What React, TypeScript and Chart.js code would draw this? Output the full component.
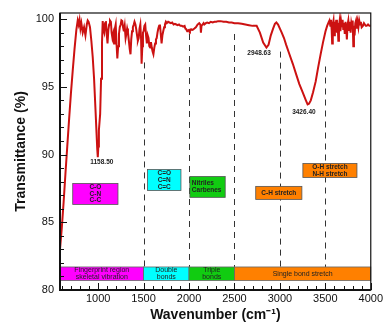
import React, { useEffect, useRef } from "react";
import { Chart, registerables } from "chart.js";

Chart.register(...registerables);

// Wavenumber (cm-1) and transmittance (%)
const wavenumbers: number[] = [
  580, 600, 620, 640, 660, 680, 700, 720, 740, 760, 775, 785, 795, 805, 815, 830, 845, 860, 875, 885,
  895, 910, 925, 940, 955, 970, 982, 990, 996, 1002, 1008, 1015, 1022, 1032, 1042, 1050, 1058, 1067, 1076, 1085,
  1094, 1103, 1112, 1121, 1130, 1140, 1148, 1157, 1166, 1175, 1184, 1193, 1202, 1211, 1220, 1229, 1238, 1248, 1256, 1265,
  1274, 1283, 1292, 1302, 1310, 1319, 1328, 1338, 1347, 1356, 1364, 1373, 1382, 1392, 1400, 1410, 1420, 1428, 1437, 1446,
  1455, 1464, 1472, 1478, 1486, 1493, 1500, 1509, 1518, 1527, 1536, 1545, 1554, 1563, 1572, 1581, 1590, 1599, 1608, 1618,
  1627, 1636, 1644, 1653, 1662, 1671, 1680, 1689, 1698, 1707, 1716, 1726, 1735, 1745, 1755, 1770, 1785, 1800, 1815, 1830,
  1845, 1860, 1875, 1890, 1905, 1920, 1935, 1951, 1960, 1969, 1980, 1987, 2000, 2010, 2023, 2040, 2059, 2075, 2095, 2105,
  2113, 2125, 2131, 2137, 2149, 2160, 2168, 2185, 2200, 2220, 2240, 2260, 2280, 2300, 2320, 2347, 2380, 2410, 2440, 2470,
  2500, 2540, 2580, 2620, 2660, 2700, 2744, 2780, 2816, 2852, 2875, 2900, 2925, 2945, 2961, 2980, 3000, 3020, 3045, 3069,
  3100, 3142, 3180, 3214, 3250, 3286, 3305, 3320, 3340, 3365, 3394, 3420, 3448, 3475, 3502, 3520, 3538, 3545, 3555, 3562,
  3570, 3575, 3582, 3590, 3598, 3605, 3612, 3620, 3628, 3636, 3643, 3650, 3658, 3666, 3674, 3682, 3690, 3698, 3706, 3714,
  3722, 3730, 3737, 3745, 3753, 3761, 3770, 3778, 3786, 3794, 3801, 3808, 3815, 3822, 3830, 3838, 3846, 3855, 3864, 3873,
  3882, 3891, 3900, 3913, 3925, 3935, 3945, 3955, 3970, 3985, 4000,
];
const transmittance: number[] = [
  83.0, 84.6, 86.5, 88.6, 90.6, 92.6, 94.5, 96.2, 97.8, 99.2, 99.9, 99.6, 99.95, 99.3, 99.7, 99.0, 99.4, 98.8, 99.6, 99.9,
  99.8, 99.4, 98.4, 97.2, 95.6, 93.4, 91.6, 90.4, 89.8, 90.6, 91.8, 92.4, 93.0, 95.6, 98.2, 99.85, 99.2, 99.0, 99.7, 99.85,
  98.9, 98.2, 99.2, 99.6, 99.9, 99.8, 99.0, 98.6, 98.9, 98.2, 99.3, 99.6, 98.2, 97.1, 98.0, 98.9, 99.4, 99.6, 99.9, 99.85,
  99.4, 99.1, 99.5, 98.6, 98.9, 99.3, 99.0, 98.4, 97.8, 97.4, 98.5, 99.1, 99.4, 99.6, 99.8, 99.6, 99.2, 98.8, 98.4, 98.6,
  99.3, 99.6, 98.6, 96.7, 98.0, 99.0, 99.1, 99.5, 99.6, 98.8, 98.2, 98.8, 98.6, 98.0, 97.9, 98.3, 97.9, 97.6, 97.4, 97.9,
  98.2, 98.5, 98.6, 99.0, 99.3, 99.5, 99.6, 98.9, 98.2, 98.8, 99.1, 99.4, 99.6, 99.8, 99.7, 99.8, 99.75, 99.7, 99.75, 99.6,
  99.65, 99.6, 99.55, 99.6, 99.5, 99.5, 99.45, 99.5, 99.3, 99.25, 99.1, 99.15, 99.2, 99.1, 99.25, 99.2, 99.3, 99.4, 99.6, 99.65,
  99.7, 99.6, 99.0, 99.5, 99.6, 99.7, 99.6, 99.7, 99.75, 99.7, 99.8, 99.75, 99.8, 99.8, 99.85, 99.85, 99.8, 99.8, 99.75, 99.75,
  99.7, 99.7, 99.65, 99.6, 99.55, 99.5, 99.5, 99.0, 98.26, 97.9, 98.1, 98.8, 99.3, 99.65, 99.75, 99.6, 99.3, 99.0, 98.6, 98.1,
  97.5, 96.7, 95.9, 95.2, 94.6, 94.0, 93.7, 93.75, 94.0, 94.6, 95.4, 96.4, 97.4, 98.3, 99.1, 99.5, 99.8, 99.9, 99.5, 99.95,
  99.2, 98.2, 99.6, 99.9, 98.8, 99.8, 99.3, 99.95, 99.0, 99.7, 98.4, 99.5, 99.9, 99.1, 99.8, 99.4, 99.95, 99.2, 99.7, 98.9,
  99.8, 99.3, 98.5, 99.6, 99.9, 99.2, 99.8, 99.0, 99.7, 99.4, 99.9, 98.0, 99.5, 98.8, 99.7, 99.9, 99.3, 99.8, 99.4, 99.9,
  99.6, 99.8, 99.4, 99.5, 99.7, 99.6, 99.5, 99.5, 99.6, 99.5, 99.5,
];

// Axis ticks
const xTickLabels: number[] = [1000, 1500, 2000, 2500, 3000, 3500, 4000];
const yTickLabels: number[] = [80, 85, 90, 95, 100];

// Peak labels
const peakTexts: string[] = ["1158.50", "2948.63", "3426.40"];
const peakX: number[] = [1040, 2771, 3264];
const peakY: number[] = [89.4, 97.45, 93.1];

// Dashed region separators
const dividerX: number[] = [1500, 2000, 2500, 3000, 3500];
const dividerTop: number[] = [96.8, 98.9, 98.9, 97.6, 96.5];
const dividerBottom = 81.7;

// Bottom region bands
const bandLabels: string[][] = [
  ["Fingerprint region", "skeletal vibration"],
  ["Double", "bonds"],
  ["Triple", "bonds"],
  ["Single bond stretch"],
];
const bandFrom: number[] = [580, 1500, 2000, 2500];
const bandTo: number[] = [1500, 2000, 2500, 4000];
const bandColors: string[] = ["#ff00ff", "#00ffff", "#11cc11", "#ff8000"];
const bandLow = 80.7;
const bandHigh = 81.7;

// Functional-group boxes
const boxLabels: string[][] = [
  ["C-O", "C-N", "C-C"],
  ["C=O", "C=N", "C=C"],
  ["Nitriles", "Carbenes"],
  ["C-H stretch"],
  ["O-H stretch", "N-H stretch"],
];
const boxFrom: number[] = [720, 1543, 2009, 2734, 3253];
const boxTo: number[] = [1218, 1911, 2398, 3242, 3848];
const boxTop: number[] = [87.87, 88.9, 88.38, 87.65, 89.34];
const boxBottom: number[] = [86.32, 87.35, 86.84, 86.69, 88.31];
const boxColors: string[] = ["#ff00ff", "#00ffff", "#11cc11", "#ff8000", "#ff8000"];
const boxAlign: string[] = ["center", "center", "left", "center", "center"];

const FONT = "'Liberation Sans', Arial, sans-serif";

const decorPlugin = {
  id: "decor",
  beforeDatasetsDraw(chart: any) {
    const { ctx, chartArea, scales } = chart;
    const xs = scales.x;
    const ys = scales.y;
    ctx.save();
    // dashed dividers
    ctx.strokeStyle = "#333";
    ctx.lineWidth = 1;
    ctx.setLineDash([6, 5]);
    dividerX.forEach((v, i) => {
      const px = Math.round(xs.getPixelForValue(v)) + 0.5;
      ctx.beginPath();
      ctx.moveTo(px, ys.getPixelForValue(dividerTop[i]));
      ctx.lineTo(px, ys.getPixelForValue(dividerBottom));
      ctx.stroke();
    });
    ctx.setLineDash([]);
    // bands
    bandLabels.forEach((lines, i) => {
      const x0 = Math.max(xs.getPixelForValue(bandFrom[i]), chartArea.left);
      const x1 = Math.min(xs.getPixelForValue(bandTo[i]), chartArea.right);
      const y0 = ys.getPixelForValue(bandHigh);
      const y1 = ys.getPixelForValue(bandLow);
      ctx.fillStyle = bandColors[i];
      ctx.fillRect(x0, y0, x1 - x0, y1 - y0);
      ctx.strokeStyle = "#666";
      ctx.lineWidth = 0.8;
      ctx.strokeRect(x0, y0, x1 - x0, y1 - y0);
      ctx.fillStyle = "#222";
      ctx.font = "7px " + FONT;
      ctx.textAlign = "center";
      ctx.textBaseline = "middle";
      const cy = (y0 + y1) / 2;
      const lh = 6.5;
      lines.forEach((t, k) => {
        ctx.fillText(t, (x0 + x1) / 2, cy + (k - (lines.length - 1) / 2) * lh);
      });
    });
    // boxes
    boxLabels.forEach((lines, i) => {
      const x0 = xs.getPixelForValue(boxFrom[i]);
      const x1 = xs.getPixelForValue(boxTo[i]);
      const y0 = ys.getPixelForValue(boxTop[i]);
      const y1 = ys.getPixelForValue(boxBottom[i]);
      ctx.fillStyle = boxColors[i];
      ctx.fillRect(x0, y0, x1 - x0, y1 - y0);
      ctx.strokeStyle = "#555";
      ctx.lineWidth = 0.8;
      ctx.strokeRect(x0, y0, x1 - x0, y1 - y0);
      ctx.fillStyle = "#222";
      ctx.font = "bold 6.5px " + FONT;
      ctx.textBaseline = "middle";
      const cy = (y0 + y1) / 2;
      const lh = 6.8;
      lines.forEach((t, k) => {
        const ty = cy + (k - (lines.length - 1) / 2) * lh;
        if (boxAlign[i] === "left") {
          ctx.textAlign = "left";
          ctx.fillText(t, x0 + 2, ty);
        } else {
          ctx.textAlign = "center";
          ctx.fillText(t, (x0 + x1) / 2, ty);
        }
      });
    });
    ctx.restore();
  },
  afterDraw(chart: any) {
    const { ctx, chartArea, scales } = chart;
    const xs = scales.x;
    const ys = scales.y;
    const { left, right, top, bottom } = chartArea;
    ctx.save();
    // peak labels
    ctx.fillStyle = "#222";
    ctx.font = "bold 6.5px " + FONT;
    ctx.textAlign = "center";
    ctx.textBaseline = "middle";
    peakTexts.forEach((t, i) => {
      ctx.fillText(t, xs.getPixelForValue(peakX[i]), ys.getPixelForValue(peakY[i]));
    });
    // frame
    ctx.strokeStyle = "#111";
    ctx.lineWidth = 1.2;
    ctx.strokeRect(left, top, right - left, bottom - top);
    ctx.lineWidth = 2;
    ctx.beginPath();
    ctx.moveTo(left, top);
    ctx.lineTo(left, bottom);
    ctx.lineTo(right, bottom);
    ctx.stroke();
    // minor / major ticks (inside)
    ctx.lineWidth = 1;
    for (let v = 80; v <= 100; v += 1) {
      const py = Math.round(ys.getPixelForValue(v)) + 0.5;
      const len = v % 5 === 0 ? 7 : 4;
      ctx.beginPath();
      ctx.moveTo(left, py);
      ctx.lineTo(left + len, py);
      ctx.stroke();
    }
    for (let v = 600; v <= 4000; v += 100) {
      const px = Math.round(xs.getPixelForValue(v)) + 0.5;
      const len = v % 500 === 0 ? 7 : 4;
      ctx.beginPath();
      ctx.moveTo(px, bottom);
      ctx.lineTo(px, bottom - len);
      ctx.stroke();
    }
    ctx.restore();
  },
};

export default function App() {
  const ref = useRef<HTMLCanvasElement | null>(null);
  useEffect(() => {
    if (!ref.current) return;
    const chart = new Chart(ref.current, {
      type: "line",
      data: {
        labels: wavenumbers,
        datasets: [
          {
            label: "Transmittance",
            data: wavenumbers.map((w, i) => ({ x: w, y: transmittance[i] })),
            borderColor: "#cc1111",
            borderWidth: 2,
            pointRadius: 0,
            tension: 0,
            fill: false,
          },
        ],
      },
      options: {
        animation: false,
        responsive: false,
        layout: { padding: { top: 13, right: 12, left: 0, bottom: 0 } },
        plugins: { legend: { display: false }, tooltip: { enabled: false } },
        scales: {
          x: {
            type: "linear",
            min: 580,
            max: 4000,
            afterFit: (s: any) => {
              s.height = 38;
            },
            afterBuildTicks: (s: any) => {
              s.ticks = xTickLabels.map((v) => ({ value: v }));
            },
            grid: { display: false, drawTicks: false },
            border: { display: false },
            ticks: {
              padding: 2,
              color: "#111",
              font: { family: FONT, size: 11 },
              maxRotation: 0,
              callback: (v: any) => String(v),
            },
            title: {
              display: true,
              text: "Wavenumber (cm⁻¹)",
              color: "#111",
              font: { family: FONT, size: 14, weight: "bold" },
              padding: { top: 0, bottom: 4 },
            },
          },
          y: {
            type: "linear",
            min: 80,
            max: 100.45,
            afterFit: (s: any) => {
              s.width = 60;
            },
            afterBuildTicks: (s: any) => {
              s.ticks = yTickLabels.map((v) => ({ value: v }));
            },
            grid: { display: false, drawTicks: false },
            border: { display: false },
            ticks: {
              padding: 6,
              color: "#111",
              font: { family: FONT, size: 11 },
              callback: (v: any) => String(v),
            },
            title: {
              display: true,
              text: "Transmittance (%)",
              color: "#111",
              font: { family: FONT, size: 14, weight: "bold" },
              padding: { top: 13, bottom: 0 },
            },
          },
        },
      },
      plugins: [decorPlugin],
    });
    return () => chart.destroy();
  }, []);
  return (
    <div style={{ position: "absolute", left: 0, top: 0, width: 385, height: 328, background: "#fff" }}>
      <canvas ref={ref} width={385} height={328} style={{ display: "block" }} />
    </div>
  );
}
